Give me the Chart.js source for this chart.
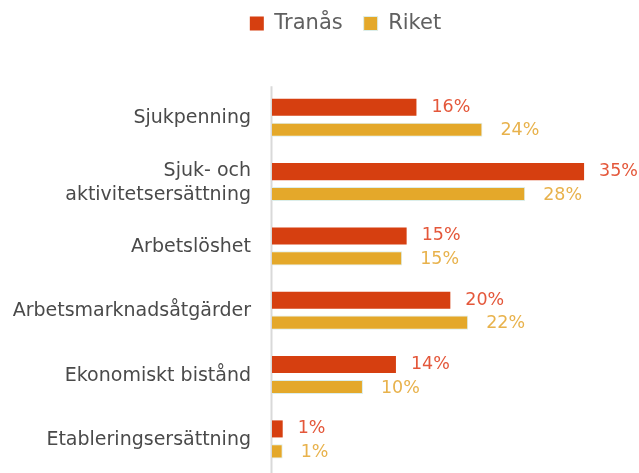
<!DOCTYPE html>
<html lang="sv">
<head>
<meta charset="utf-8">
<script src="https://cdn.jsdelivr.net/npm/chart.js@4.4.1/dist/chart.umd.min.js"></script>
<style>
  html,body{margin:0;padding:0;background:#fff;overflow:hidden;}
  #wrap{position:relative;width:639px;height:473px;}
</style>
</head>
<body>
<div id="wrap"><canvas id="chart-ersattning"></canvas></div>
<script>
// ── data ──
const kategorier=['Sjukpenning',['Sjuk- och','aktivitetsersättning'],'Arbetslöshet','Arbetsmarknadsåtgärder','Ekonomiskt bistånd','Etableringsersättning'];
const tranas=[16.2,35.0,15.1,20.0,13.9,1.2];
const riket=[23.6,28.4,14.6,22.0,10.2,1.2];

const FONT='"DejaVu Sans", sans-serif';
const farger={tranas:'#d63f10',tranasText:'#e4573a',riket:'#e4a82a',riketText:'#e8b24c'};

// legenden: extra höjd under den, och flyttad lite åt höger/uppåt
const legendGap={
  id:'legendGap',
  beforeInit(chart){
    const fit=chart.legend.fit;
    chart.legend.fit=function(){fit.call(this);this.height=118.5;};
  },
  afterLayout(chart){
    const l=chart.legend;
    l.left+=49;l.right+=49;l.top-=8;
  }
};

// vertical zero line, from top of first band down to the bottom edge
const nollLinje={
  id:'nollLinje',
  beforeDatasetsDraw(chart){
    const {ctx,scales:{x,y}}=chart;
    const steg=y.getPixelForValue(1)-y.getPixelForValue(0);
    const x0=Math.round(x.getPixelForValue(0))-0.5;
    ctx.save();
    ctx.strokeStyle='#d9d9d9';ctx.lineWidth=2;
    ctx.beginPath();
    ctx.moveTo(x0,y.getPixelForValue(0)-steg/2);
    ctx.lineTo(x0,chart.height);
    ctx.stroke();
    ctx.restore();
  }
};

// procent-etiketter till höger om staplarna
const etiketter={
  id:'etiketter',
  afterDatasetsDraw(chart){
    const {ctx}=chart;
    ctx.save();
    ctx.font='17.5px '+FONT;
    ctx.textAlign='left';ctx.textBaseline='middle';
    chart.data.datasets.forEach((ds,di)=>{
      const meta=chart.getDatasetMeta(di);
      ctx.fillStyle=ds.etikettFarg;
      meta.data.forEach((bar,i)=>{
        ctx.fillText(Math.round(ds.data[i])+'%',bar.x+(di?18:15),bar.y+(di?1:0));
      });
    });
    ctx.restore();
  }
};

new Chart(document.getElementById('chart-ersattning'),{
  type:'bar',
  data:{labels:kategorier,datasets:[
    {label:'Tranås',data:tranas,backgroundColor:farger.tranas,etikettFarg:farger.tranasText,
     barPercentage:0.76,categoryPercentage:0.697,clip:false},
    {label:'Riket',data:riket,backgroundColor:farger.riket,borderColor:'#dceeea',borderWidth:1,etikettFarg:farger.riketText,
     barPercentage:0.63,categoryPercentage:0.697,clip:false}
  ]},
  options:{
    indexAxis:'y',responsive:true,maintainAspectRatio:false,animation:false,
    layout:{padding:{left:0,right:46,top:0,bottom:24.3}},
    plugins:{
      legend:{display:true,position:'top',
        labels:{font:{family:FONT,size:21},color:'#606060',boxWidth:14,boxHeight:14,padding:21,
          generateLabels:ch=>ch.data.datasets.map((d,i)=>({text:d.label,fillStyle:d.backgroundColor,
            strokeStyle:i?'#dceeea':d.backgroundColor,lineWidth:i?1:0,fontColor:'#606060',datasetIndex:i}))}},
      tooltip:{enabled:false}
    },
    scales:{
      x:{display:false,min:0,max:36},
      y:{offset:false,
        grid:{display:false,drawTicks:false},border:{display:false},
        ticks:{font:{family:FONT,size:19,lineHeight:1.25},color:'#4a4a4a',padding:21},
        afterFit(s){s.width=272;}}
    }
  },
  plugins:[legendGap,nollLinje,etiketter]
});
</script>
</body>
</html>
